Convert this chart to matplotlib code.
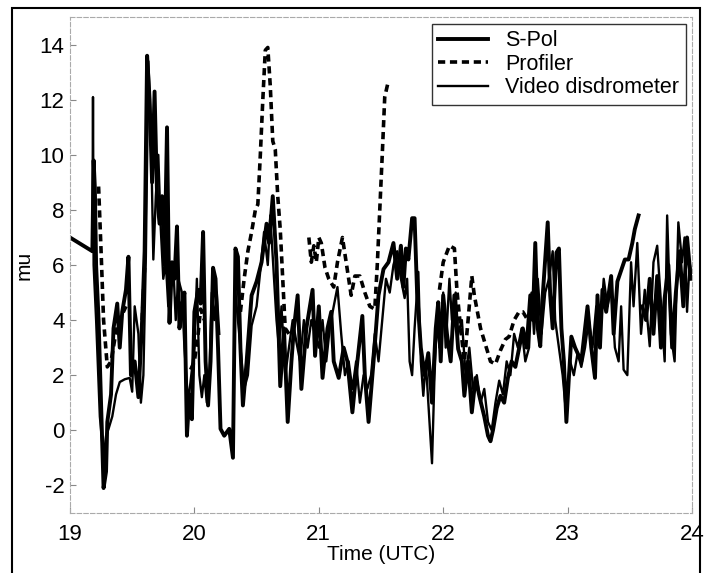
import numpy as np
import matplotlib.pyplot as plt
from matplotlib.patches import Rectangle

nan = np.nan

# S-Pol (thick solid)
spol_t = [19.0, 19.18, 19.19, 19.2, 19.21, 19.23, 19.25, 19.27, 19.29, 19.3, 19.33, 19.35,
          19.38, 19.40, 19.42, 19.45, 19.47, 19.49, 19.52, 19.55, 19.58, 19.60, 19.62, 19.64,
          19.66, 19.68, 19.70, 19.72, 19.74, 19.76, 19.78, 19.80, 19.82, 19.84, 19.86, 19.88,
          19.90, 19.92, 19.94, 19.96, 19.98, 20.00, 20.03, 20.05, 20.07, 20.09, 20.11, 20.13,
          20.15, 20.17, 20.19, 20.21, 20.24, 20.28, 20.31, 20.33, 20.35, 20.37, 20.39, 20.42,
          20.46, 20.50, 20.54, 20.58, 20.60, 20.63, 20.66, 20.69, 20.72, 20.75, 20.78, 20.80,
          20.83, 20.86, 20.90, 20.95, 20.97, 21.0, 21.03, 21.07, 21.10, 21.12, 21.16, 21.2,
          21.23, 21.27, 21.31, 21.35, 21.37, 21.40, 21.44, 21.48, 21.52, 21.56, 21.60, 21.63,
          21.66, 21.68, 21.70, 21.72, 21.75, 21.77, 21.79, 21.82, 21.85, 21.88, 21.91, 21.94,
          21.96, 21.98, 22.0, 22.03, 22.06, 22.09, 22.12, 22.15, 22.17, 22.20, 22.23, 22.26,
          22.29, 22.33, 22.36, 22.38, 22.40, 22.43, 22.46, 22.49, 22.52, 22.55, 22.58, 22.62,
          22.64, 22.67, 22.70, 22.72, 22.74, 22.76, 22.78, 22.80, 22.84, 22.86, 22.88, 22.91,
          22.93, 22.95, 22.97, 22.99, 23.01, 23.03, 23.06, 23.11, 23.14, 23.16, 23.19, 23.22,
          23.24, 23.26, 23.28, 23.31, 23.35, 23.37, 23.40, 23.43, 23.46, 23.49, 23.52, 23.54,
          23.57, 23.58,
          23.60, 23.63, 23.66, 23.69, 23.72, 23.75, 23.78, 23.81, 23.84, 23.87, 23.90, 23.93,
          23.96, 23.99]
spol_mu = [7.0, 6.5, 9.8, 8.8, 6.0, 4.0, 1.0, -2.1, -1.5, 0.3, 1.3, 3.7,
           4.6, 3.0, 4.3, 5.1, 6.3, 2.0, 2.5, 1.2, 4.0, 6.5, 13.6, 12.0,
           9.0, 12.3, 8.5, 7.5, 8.5, 6.0, 11.0, 3.9, 6.1, 5.5, 7.4, 3.7,
           4.5, 5.0, -0.2, 1.3, 0.4, 4.3, 5.1, 4.6, 7.2, 2.5, 0.9, 2.5,
           5.9, 5.5, 3.0, 0.05, -0.2, 0.05, -1.0, 6.6, 6.3, 3.0, 0.9, 2.5,
           4.9, 5.4, 6.1, 7.5, 6.8, 8.5, 6.1, 1.6, 3.7, 0.3, 2.5, 3.7,
           4.9, 1.5, 3.7, 5.1, 2.7, 4.5, 1.9, 3.7, 4.3, 2.5, 1.9, 3.0,
           2.5, 0.65, 2.5, 4.15, 2.0, 0.3, 2.5, 4.9, 5.85, 6.1, 6.8, 5.5,
           6.7, 5.2, 6.6, 6.2, 7.7, 7.7, 5.0, 3.0, 2.0, 2.8, 1.0, 3.7,
           4.65, 2.5, 4.9, 3.5, 2.5, 4.9, 2.95, 2.5, 1.25, 2.5, 0.65, 1.9,
           1.25, 0.5, -0.2, -0.4, 0.0, 0.8, 1.25, 1.0, 1.9, 2.5, 2.3, 3.2,
           3.7, 3.0, 4.9, 4.0, 6.8, 3.7, 3.05, 4.9, 7.55, 4.9, 3.7, 6.45,
           6.6, 3.7, 2.5, 0.3, 1.9, 3.4, 3.0, 2.5, 3.7, 4.5, 3.0, 1.9,
           4.9, 3.0, 5.1, 4.3, 5.6, 3.5, 5.4, 5.8, 6.2, 6.2, 6.8, 7.3,
           7.8, nan,
           4.5, 4.0, 5.5, 3.5, 5.6, 3.0, 4.8, 6.0, 3.0, 5.0, 6.5, 4.5,
           7.0, 5.5]

# Video disdrometer (thin solid)
video_t = [19.18, 19.185, 19.19, 19.21, 19.24, 19.27, 19.29, 19.31, 19.34, 19.37, 19.40, 19.44,
           19.48, 19.50, 19.52, 19.55, 19.57, 19.59, 19.61, 19.63, 19.65, 19.67, 19.69, 19.71,
           19.73, 19.75, 19.77, 19.79, 19.81, 19.83, 19.85, 19.87, 19.90, 19.92, 19.95, 19.97,
           20.0, 20.02, 20.04, 20.06, 20.08, 20.10, 20.12, 20.14, 20.16, 20.18, 20.20, 20.26,
           20.33, 20.36, 20.40, 20.43, 20.46, 20.50, 20.53, 20.56, 20.59, 20.61, 20.64, 20.66,
           20.68, 20.70, 20.73, 20.76, 20.79, 20.82, 20.85, 20.88, 20.91, 20.94, 20.97, 21.0,
           21.03, 21.06, 21.09, 21.12, 21.15, 21.18, 21.21, 21.24, 21.27, 21.30, 21.33, 21.36,
           21.39, 21.42, 21.45, 21.48, 21.51, 21.54, 21.57, 21.60, 21.63, 21.66, 21.69, 21.71,
           21.73, 21.75, 21.77, 21.80, 21.82, 21.84, 21.86, 21.88, 21.91, 21.93, 21.95, 21.97,
           22.0, 22.02, 22.05, 22.07, 22.10, 22.12, 22.15, 22.18, 22.21, 22.24, 22.27, 22.30,
           22.33, 22.36, 22.39, 22.42, 22.45, 22.48, 22.51, 22.54, 22.57, 22.60, 22.63, 22.66,
           22.69, 22.71, 22.73, 22.76, 22.79, 22.82, 22.85, 22.88, 22.90, 22.93, 22.96, 22.98,
           23.00, 23.02, 23.05, 23.08, 23.11, 23.14, 23.17, 23.20, 23.23, 23.26, 23.29, 23.32,
           23.35, 23.38, 23.41, 23.43, 23.45, 23.48, 23.51, 23.53, 23.56, 23.59, 23.62, 23.66,
           23.69, 23.72, 23.75, 23.78, 23.80, 23.83, 23.86, 23.89, 23.92, 23.94, 23.96, 23.98,
           24.0]
video_mu = [6.5, 12.1, 6.0, 4.0, 0.5, -1.0, -0.2, 0.05, 0.5, 1.3, 1.75, 1.85,
            1.9, 1.4, 4.5, 3.5, 1.0, 2.0, 6.3, 13.4, 11.0, 6.2, 8.5, 10.0,
            7.3, 5.5, 6.1, 4.5, 5.3, 6.0, 4.0, 5.5, 5.0, 3.0, 1.0, 1.8,
            3.0, 5.5, 2.0, 1.2, 2.0, 1.0, 1.9, 5.0, 4.0, 5.0, 3.5, nan,
            5.0, 3.5, 1.5, 2.0, 3.8, 4.5, 5.8, 7.2, 6.0, 7.8, 5.5, 4.0,
            3.0, 4.5, 2.0, 3.0, 4.0, 3.2, 2.5, 4.0, 3.0, 4.0, 3.5, 3.0,
            4.0, 2.5, 3.8, 4.5, 5.2, 3.5, 2.0, 2.5, 1.5, 2.5, 1.0, 2.0,
            1.5, 2.0, 3.5, 2.5, 4.0, 5.5, 5.0, 6.0, 6.5, 5.5, 4.8, 5.5,
            2.5, 2.0, 3.7, 5.75, 2.5, 1.25, 2.5, 1.0, -1.2, 2.0, 4.0, 3.0,
            5.0, 3.0, 5.5, 4.0, 5.0, 3.5, 4.0, 2.0, 3.0, 1.5, 2.0, 1.0,
            1.5, 0.3, 0.0, 1.0, 1.8, 1.3, 2.5, 2.0, 3.5, 3.0, 3.7, 2.5,
            3.0, 5.0, 3.5, 5.5, 3.5, 5.0, 5.5, 6.5, 4.0, 3.0, 2.0, 1.0,
            1.5, 2.5, 2.0, 2.8, 2.3, 3.0, 4.0, 3.0, 4.5, 3.5, 5.5, 4.5,
            5.2, 3.0, 2.5, 4.5, 2.2, 2.0, 6.1, 4.5, 6.8, 3.5, 5.1, 3.05,
            6.1, 6.7, 4.65, 2.5, 7.8, 3.5, 2.5, 7.55, 6.1, 7.0, 4.3, 6.1,
            5.5]

# Profiler (dashed), gaps where no data
prof_t = [19.23, 19.25, 19.27, 19.30, 19.33, 19.36, 19.39, 19.42, 19.45, 19.5,
          19.58, 19.60, 19.7,
          19.97, 20.0, 20.03, 20.05, 20.08, 20.2,
          20.37, 20.40, 20.43, 20.46, 20.49, 20.51, 20.53, 20.55, 20.57, 20.59, 20.61, 20.63,
          20.65, 20.67, 20.69, 20.71, 20.73, 20.76, 20.8,
          20.92, 20.94, 20.96, 20.98, 21.00, 21.02, 21.05, 21.08, 21.12, 21.15, 21.19, 21.22,
          21.26, 21.29, 21.33, 21.37, 21.41, 21.45, 21.47, 21.49, 21.51, 21.53, 21.56, 21.7,
          21.97, 22.0, 22.05, 22.09, 22.11, 22.14, 22.17, 22.20, 22.23, 22.25, 22.30, 22.34,
          22.38, 22.42, 22.46, 22.50, 22.53, 22.57, 22.61, 22.64, 22.68]
prof_mu = [8.85, 6.5, 4.0, 2.3, 2.5, 3.3, 4.0, 4.2, 4.5, nan,
           4.0, 5.9, nan,
           2.2, 2.5, 3.5, 4.4, 4.0, nan,
           4.3, 5.5, 6.5, 7.2, 8.0, 8.2, 10.0, 12.0, 13.8, 13.9, 12.5, 10.5,
           10.2, 8.5, 7.3, 5.5, 3.7, 3.5, nan,
           7.0, 6.1, 6.7, 6.1, 7.0, 6.8, 5.9, 5.5, 5.2, 6.1, 7.0, 6.1,
           4.9, 5.6, 5.6, 5.0, 4.5, 4.4, 6.0, 8.0, 10.0, 12.1, 12.7, nan,
           5.1, 6.1, 6.7, 6.6, 5.1, 3.7, 2.5, 4.0, 5.6, 4.9, 3.7, 3.1,
           2.5, 2.4, 2.9, 3.3, 3.4, 4.0, 4.3, 4.3, 4.0]

x_ticks = [19, 20, 21, 22, 23, 24]
y_ticks = [-2, 0, 2, 4, 6, 8, 10, 12, 14]

plt.rcParams['font.family'] = ['Liberation Sans', 'DejaVu Sans']
plt.rcParams['axes.unicode_minus'] = False

fig = plt.figure(figsize=(7.04, 5.73), dpi=100)
ax = fig.add_axes([0.0994, 0.105, 0.8836, 0.865])

ax.plot(spol_t, spol_mu, color='black', lw=2.8, label='S-Pol')
ax.plot(prof_t, prof_mu, color='black', lw=2.6, ls=(0, (2.0, 1.3)), label='Profiler')
ax.plot(video_t, video_mu, color='black', lw=1.7, label='Video disdrometer')

ax.set_xlim(19, 24)
ax.set_ylim(-3, 15)
ax.set_xticks(x_ticks)
ax.set_yticks(y_ticks)
ax.tick_params(direction='in', length=4, width=0.8, labelsize=16, color='#888888')
ax.tick_params(axis='x', pad=8)
ax.tick_params(axis='y', pad=4)
for s in ax.spines.values():
    s.set_color('#aaaaaa')
    s.set_linewidth(0.8)
    s.set_linestyle((0, (4, 2)))

ax.set_xlabel('Time (UTC)', fontsize=15, labelpad=0)
ax.set_ylabel('mu', fontsize=15, labelpad=4)

leg = ax.legend(loc='upper right', fontsize=15.5, frameon=True, fancybox=False,
                borderaxespad=0.3, handlelength=2.3, handletextpad=0.8,
                borderpad=0.3, labelspacing=0.12)
leg.get_frame().set_edgecolor('black')
leg.get_frame().set_linewidth(1.0)

# scanned page border
fig.patches.append(Rectangle((12 / 704, -0.02), 688 / 704, 1.0 - 8 / 573 + 0.02,
                             transform=fig.transFigure, fill=False,
                             edgecolor='black', lw=1.5))

fig.savefig('out.png', dpi=100)
